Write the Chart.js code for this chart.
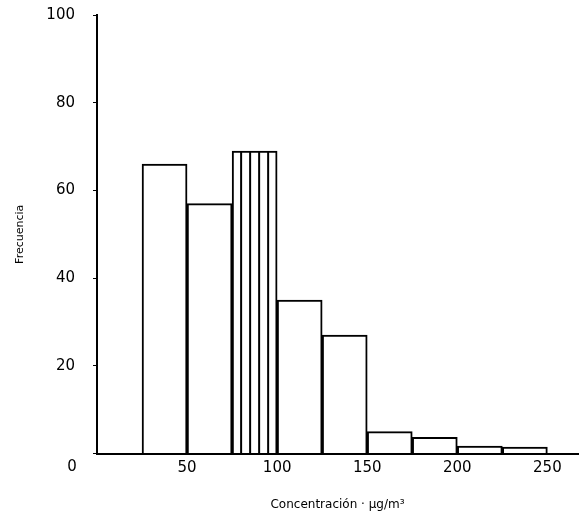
<!DOCTYPE html>
<html>
<head>
<meta charset="utf-8">
<script src="https://cdn.jsdelivr.net/npm/chart.js@4"></script>
<style>
  html, body { margin: 0; padding: 0; background: #fff; }
  #wrap { width: 581px; height: 522px; }
</style>
</head>
<body>
<div id="wrap"><canvas id="histo"></canvas></div>
<script>
// Datos del histograma
const binEdges = [25, 50, 75, 100, 125, 150, 175, 200, 225, 250];
const frecuencias = [66, 57, 69, 35, 27, 5, 3.7, 1.7, 1.5];
const xTickValues = [0, 50, 100, 150, 200, 250];
const yTickValues = [0, 20, 40, 60, 80, 100];
const barraRayada = 2; // intervalo 75-100 con rayado vertical

const puntos = frecuencias.map((f, i) => ({ x: (binEdges[i] + binEdges[i + 1]) / 2, y: f }));

// Rayado vertical del intervalo marcado y etiqueta "0" del origen
const extras = {
    id: 'extras',
    afterDatasetsDraw(chart) {
        const ctx = chart.ctx;
        const bar = chart.getDatasetMeta(0).data[barraRayada];
        const left = bar.x - bar.width / 2;
        ctx.save();
        ctx.strokeStyle = '#000';
        ctx.lineWidth = 2;
        for (let k = 1; k <= 4; k++) {
            const x = left + bar.width * k / 5;
            ctx.beginPath();
            ctx.moveTo(x, bar.y);
            ctx.lineTo(x, bar.base);
            ctx.stroke();
        }
        // el "0" compartido, a la izquierda del eje
        const xs = chart.scales.x;
        ctx.fillStyle = '#000';
        ctx.font = '15px "DejaVu Sans"';
        ctx.textAlign = 'center';
        ctx.textBaseline = 'middle';
        ctx.fillText('0', xs.getPixelForValue(0) - 25, chart.chartArea.bottom + 14);
        ctx.restore();
    }
};

new Chart(document.getElementById('histo'), {
    type: 'bar',
    data: {
        datasets: [{
            data: puntos,
            backgroundColor: '#fff',
            borderColor: '#000',
            borderWidth: 2,
            barPercentage: 1,
            categoryPercentage: 1
        }]
    },
    options: {
        responsive: true,
        maintainAspectRatio: false,
        animation: false,
        layout: { padding: { top: 0, right: 3, bottom: 6, left: 14 } },
        plugins: { legend: { display: false }, tooltip: { enabled: false } },
        scales: {
            x: {
                type: 'linear',
                min: 0,
                max: 267,
                offset: false,
                grid: { display: false, drawTicks: false },
                border: { color: '#000', width: 2 },
                afterBuildTicks: s => { s.ticks = xTickValues.map(v => ({ value: v })); },
                ticks: {
                    color: '#000',
                    padding: 6,
                    maxRotation: 0,
                    font: { family: 'DejaVu Sans', size: 15 },
                    callback: v => (v === 0 ? '' : v)
                },
                title: {
                    display: true,
                    text: 'Concentración · µg/m³',
                    color: '#000',
                    font: { family: 'DejaVu Sans', size: 12 },
                    padding: { top: 14, bottom: 4 }
                }
            },
            y: {
                min: 0,
                max: 100,
                afterBuildTicks: s => { s.ticks = yTickValues.map(v => ({ value: v })); },
                afterFit: s => { s.width = 83; s.paddingTop = 15; s.paddingBottom = 0; },
                grid: { drawOnChartArea: false, drawTicks: true, tickLength: 4, color: '#000' },
                border: { color: '#000', width: 2 },
                ticks: {
                    color: '#000',
                    padding: 18,
                    font: { family: 'DejaVu Sans', size: 15 },
                    callback: v => (v === 0 ? '' : v)
                },
                title: {
                    display: true,
                    text: 'Frecuencia',
                    color: '#000',
                    font: { family: 'DejaVu Sans', size: 11 },
                    padding: { top: 0, bottom: 18 }
                }
            }
        }
    },
    plugins: [extras]
});
</script>
</body>
</html>
